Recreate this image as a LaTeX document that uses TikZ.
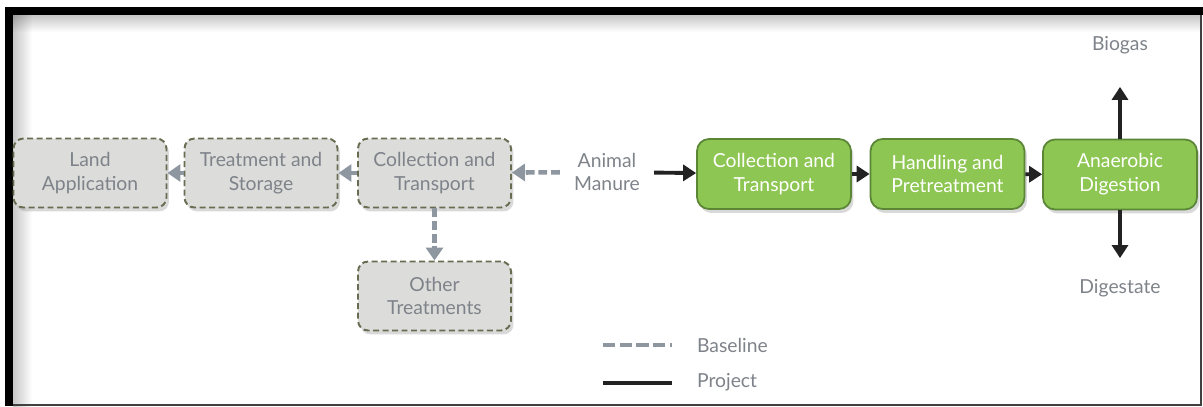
\documentclass[tikz,border=0pt]{standalone}
\usepackage{fontspec}
\setmainfont{Lato}
\usetikzlibrary{arrows.meta, shadows}
\definecolor{MyGreen}{HTML}{8DC652}
\definecolor{MyDarkGreen}{HTML}{5A8636}
\definecolor{MyBoxGray}{HTML}{DCDCDA}
\definecolor{MyOlive}{HTML}{686D52}
\definecolor{MyArrowGray}{HTML}{8E97A0}
\definecolor{MyText}{HTML}{7E838A}
\definecolor{MyBlack}{HTML}{222222}

\begin{document}
\begin{tikzpicture}[x=0.02cm, y=-0.02cm,
		every node/.style={font=\fontsize{11}{13.6}\selectfont, align=center},
		basebox/.style={draw=MyOlive, line width=1.1pt, dash pattern=on 3.4pt off 2pt, fill=MyBoxGray, text=MyText,
			rounded corners=0.2cm, minimum width=3.06cm, minimum height=1.38cm,
			drop shadow={opacity=0.3, shadow xshift=0.05cm, shadow yshift=-0.08cm}},
		projbox/.style={draw=MyDarkGreen, line width=1pt, fill=MyGreen, text=white,
			rounded corners=0.24cm, minimum width=3.08cm, minimum height=1.4cm,
			drop shadow={opacity=0.3, shadow xshift=0.05cm, shadow yshift=-0.08cm}},
		plain/.style={text=MyText, inner sep=1pt},
		basearrow/.style={MyArrowGray, line width=2.6pt, dash pattern=on 5pt off 2.2pt, -{Triangle[length=2.6mm, width=3.4mm]}},
		projarrow/.style={MyBlack, line width=2.2pt, -{Triangle[length=2.6mm, width=3.2mm]}}]
	
	\useasboundingbox (0,0) rectangle (1203,406);
	
	% frame
	\shade[left color=black!22, right color=white, blend mode=multiply] (13,15) rectangle (32,406);
	\shade[top color=black!22, bottom color=white, blend mode=multiply] (13,15) rectangle (1201,32);
	\fill[black] (5,7) rectangle (1203,15);
	\fill[black] (5,7) rectangle (13,406);
	\draw[black!75, line width=0.6pt] (1201,15) -- (1201,405) -- (13,405);
	
	% baseline
	\node[basebox] (land) at (90,173) {Land\\Application};
	\node[basebox] (storage) at (261,173) {Treatment and\\Storage};
	\node[basebox] (collectB) at (434.5,173) {Collection and\\Transport};
	\node[basebox] (other) at (434.5,296) {Other\\Treatments};
	
	\node[plain, inner xsep=0.28cm] (manure) at (607,172) {Animal\\Manure};
	
	% project
	\node[projbox] (collectP) at (774,174) {Collection and\\Transport};
	\node[projbox] (handling) at (947.5,174) {Handling and\\Pretreatment};
	\node[projbox] (digestion) at (1120,174.5) {Anaerobic\\Digestion};
	
	\node[plain] (biogas) at (1120,45) {Biogas};
	\node[plain] (digestate) at (1120,288) {Digestate};
	
	\draw[basearrow] (manure) -- (collectB);
	\draw[basearrow] (collectB) -- (storage);
	\draw[basearrow] (storage) -- (land);
	\draw[basearrow] (collectB) -- (other);
	
	\draw[projarrow] (manure) -- (collectP);
	\draw[projarrow] (collectP) -- (handling);
	\draw[projarrow] (handling) -- (digestion);
	\draw[projarrow, shorten >=0.62cm] (digestion) -- (biogas);
	\draw[projarrow, shorten >=0.38cm] (digestion) -- (digestate);
	
	% legend
	\coordinate (baseA) at (603,345);
	\coordinate (baseB) at (672,345);
	\coordinate (projA) at (603,383);
	\coordinate (projB) at (672,383);
	\draw[MyArrowGray, line width=2.4pt, dash pattern=on 7pt off 2.5pt] (baseA) -- (baseB);
	\draw[MyBlack, line width=2.4pt] (projA) -- (projB);
	\node[plain, anchor=west] (baseline) at (695,345) {Baseline};
	\node[plain, anchor=west] (project) at (695,382) {Project};
\end{tikzpicture}
\end{document}
